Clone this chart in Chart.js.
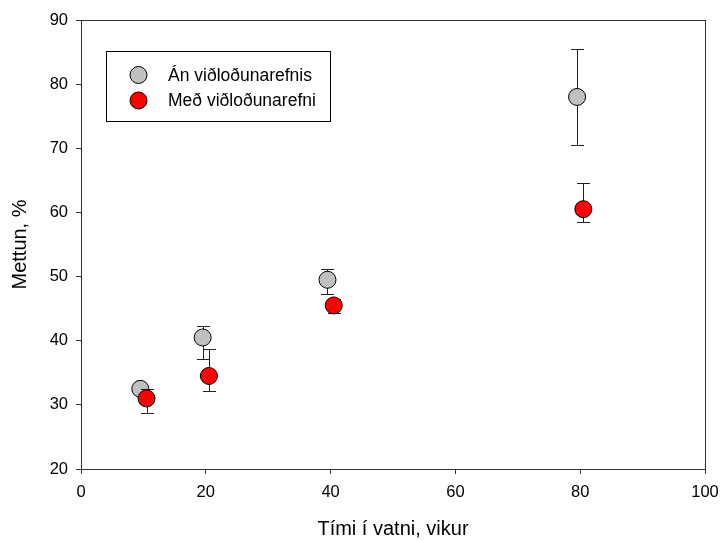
<!DOCTYPE html>
<html>
<head>
<meta charset="utf-8">
<script src="https://cdn.jsdelivr.net/npm/chart.js@4/dist/chart.umd.min.js"></script>
<style>
html,body{margin:0;padding:0;background:#fff;}
#wrap{width:720px;height:541px;position:relative;}
</style>
</head>
<body>
<div id="wrap"><canvas id="c" width="720" height="541"></canvas></div>
<script>
// Data
const seriesNames = ["Án viðloðunarefnis", "Með viðloðunarefni"];
const xGrey = [9.5, 19.5, 39.5, 79.5];
const yGrey = [32.5, 40.5, 49.5, 78.0];
const loGrey = [31.8, 37.1, 47.3, 70.5];
const hiGrey = [33.2, 42.3, 51.2, 85.5];
const xRed = [10.5, 20.5, 40.5, 80.5];
const yRed = [31.0, 34.5, 45.5, 60.5];
const loRed = [28.7, 32.2, 44.3, 58.5];
const hiRed = [32.4, 38.7, 46.5, 64.6];
const xTicks = [0, 20, 40, 60, 80, 100];
const yTicks = [20, 30, 40, 50, 60, 70, 80, 90];

const FONT = "'Liberation Sans', Arial, sans-serif";
const AXC = '#333';

function pts(xs, ys, lo, hi) {
  return xs.map((x, i) => ({x: x, y: ys[i], lo: lo[i], hi: hi[i]}));
}

const errorBars = {
  id: 'errorBars',
  beforeDatasetDraw(chart, args) {
    const meta = args.meta;
    const ds = chart.data.datasets[args.index];
    const ys = chart.scales.y;
    const ctx = chart.ctx;
    ctx.save();
    ctx.strokeStyle = '#222';
    ctx.lineWidth = 1;
    meta.data.forEach((el, i) => {
      const d = ds.data[i];
      const x = Math.round(el.x) + 0.5;
      const yl = Math.round(ys.getPixelForValue(d.lo)) + 0.5;
      const yh = Math.round(ys.getPixelForValue(d.hi)) + 0.5;
      ctx.beginPath();
      ctx.moveTo(x, yl); ctx.lineTo(x, yh);
      ctx.moveTo(x - 6.5, yl); ctx.lineTo(x + 6.5, yl);
      ctx.moveTo(x - 6.5, yh); ctx.lineTo(x + 6.5, yh);
      ctx.stroke();
    });
    ctx.restore();
  }
};

const frameAndLegend = {
  id: 'frameAndLegend',
  afterDraw(chart) {
    const ctx = chart.ctx;
    const a = chart.chartArea;
    ctx.save();
    ctx.strokeStyle = AXC;
    ctx.lineWidth = 1;
    ctx.strokeRect(Math.round(a.left) + 0.5, Math.round(a.top) + 0.5, Math.round(a.right - a.left), Math.round(a.bottom - a.top));
    // legend box
    ctx.strokeStyle = '#000';
    ctx.strokeRect(106.5, 51.5, 224, 70);
    const rows = [75, 100.5];
    chart.data.datasets.forEach((ds, i) => {
      const idx = ds.legendIndex;
      ctx.beginPath();
      ctx.arc(138.5, rows[idx], 8.5, 0, Math.PI * 2);
      ctx.fillStyle = ds.backgroundColor;
      ctx.fill();
      ctx.strokeStyle = '#000';
      ctx.stroke();
      ctx.fillStyle = '#000';
      ctx.font = '17.5px ' + FONT;
      ctx.textBaseline = 'middle';
      ctx.textAlign = 'left';
      ctx.fillText(ds.label, 168, rows[idx] + 1);
    });
    ctx.restore();
  }
};

new Chart(document.getElementById('c'), {
  type: 'scatter',
  data: {
    datasets: [
      {
        label: seriesNames[0], legendIndex: 0, order: 2,
        data: pts(xGrey, yGrey, loGrey, hiGrey),
        backgroundColor: '#c0c0c0', borderColor: '#000', borderWidth: 1,
        pointRadius: 8.5, pointHoverRadius: 8.5
      },
      {
        label: seriesNames[1], legendIndex: 1, order: 1,
        data: pts(xRed, yRed, loRed, hiRed),
        backgroundColor: '#ff0000', borderColor: '#000', borderWidth: 1,
        pointRadius: 8.5, pointHoverRadius: 8.5
      }
    ]
  },
  options: {
    responsive: false,
    animation: false,
    devicePixelRatio: 1,
    layout: {padding: {left: 0, right: 15, top: 20, bottom: 0}},
    plugins: {legend: {display: false}, tooltip: {enabled: false}},
    scales: {
      x: {
        type: 'linear', min: 0, max: 100,
        afterBuildTicks(s) { s.ticks = xTicks.map(v => ({value: v})); },
        afterFit(s) { s.height = 72; s.paddingLeft = 0; s.paddingRight = 0; },
        grid: {display: true, drawOnChartArea: false, drawTicks: true, tickLength: 5, color: AXC},
        border: {display: true, color: AXC},
        ticks: {color: '#000', font: {family: FONT, size: 16.5}, padding: 9, maxRotation: 0},
        title: {display: true, text: 'Tími í vatni, vikur', color: '#000', font: {family: FONT, size: 20}, padding: {top: 0, bottom: 0}}
      },
      y: {
        type: 'linear', min: 20, max: 90,
        afterBuildTicks(s) { s.ticks = yTicks.map(v => ({value: v})); },
        afterFit(s) { s.width = 81; s.paddingTop = 0; s.paddingBottom = 0; },
        grid: {display: true, drawOnChartArea: false, drawTicks: true, tickLength: 5, color: AXC},
        border: {display: true, color: AXC},
        ticks: {color: '#000', font: {family: FONT, size: 16.5}, padding: 8},
        title: {display: true, text: 'Mettun, %', color: '#000', font: {family: FONT, size: 20}, padding: {top: 8, bottom: 0}}
      }
    }
  },
  plugins: [errorBars, frameAndLegend]
});
</script>
</body>
</html>
